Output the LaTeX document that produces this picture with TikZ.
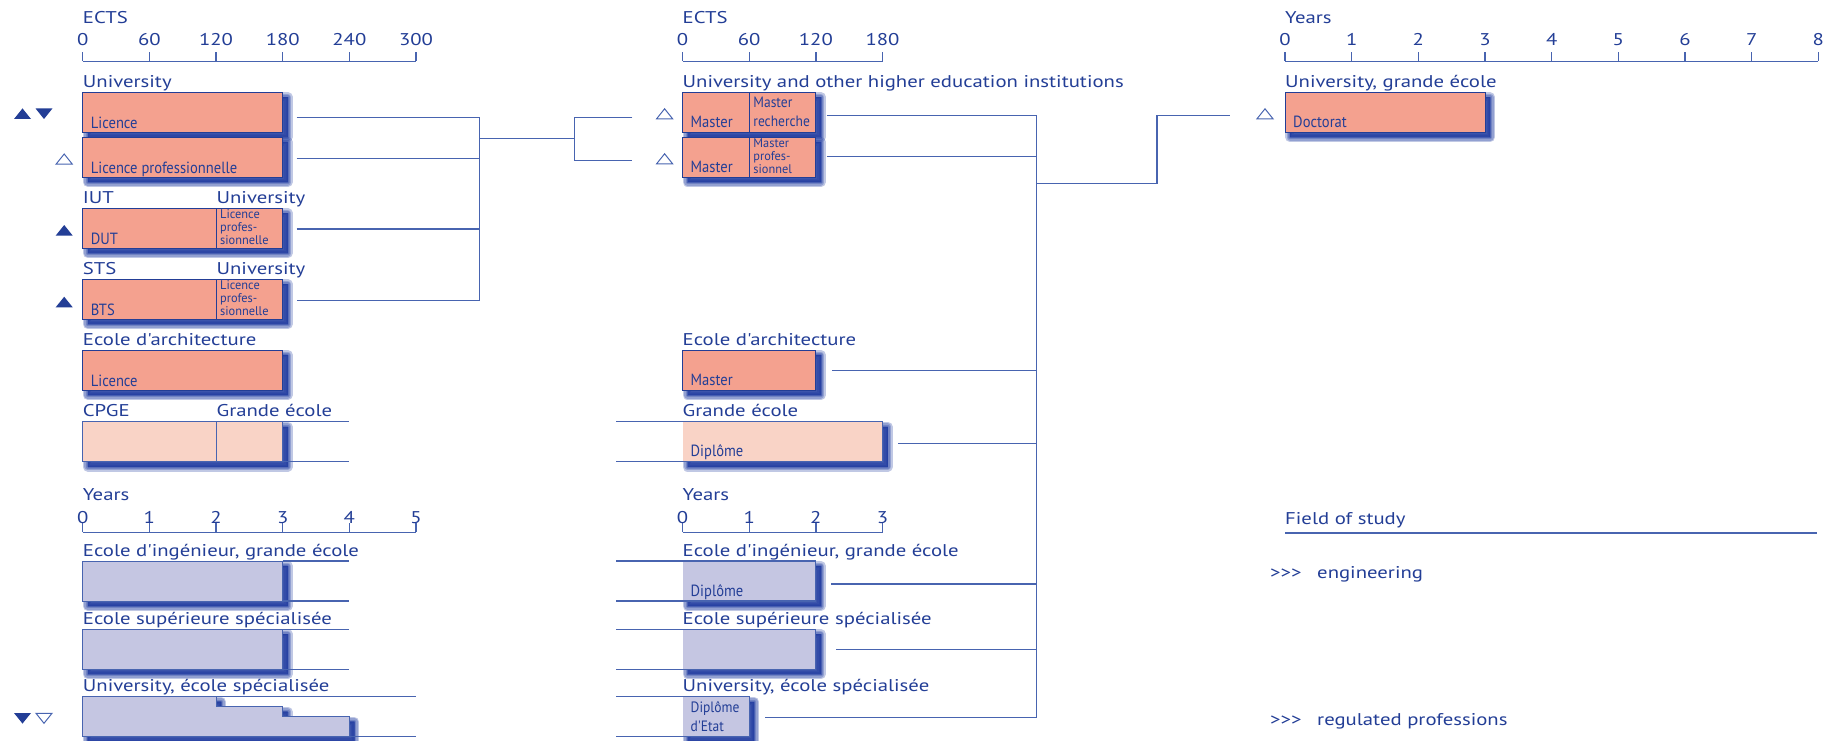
\documentclass[tikz,border=0pt]{standalone}
\usepackage{fontspec}
\setmainfont{PT Sans}
\newfontfamily\lblfont[FakeStretch=1.22]{PT Sans}
\newfontfamily\condfont[FakeStretch=0.9]{PT Sans}
\newfontfamily\tightfont[FakeStretch=0.98]{PT Sans}
\usetikzlibrary{calc,backgrounds}

\definecolor{inkblue}{RGB}{35,62,150}
\definecolor{lineblue}{RGB}{72,100,176}
\definecolor{shadeblue}{RGB}{30,58,160}
\definecolor{salmon}{RGB}{244,161,143}
\definecolor{palesalmon}{RGB}{249,211,198}
\definecolor{lavender}{RGB}{197,198,226}

\tikzset{
  lbl/.style={anchor=base west,inner sep=0pt,text=inkblue,font=\lblfont\fontsize{17}{20}\selectfont},
  num/.style={lbl,anchor=base},
  intxt/.style={inner sep=0pt,text=inkblue,align=left,font=\condfont\fontsize{16.2}{18}\selectfont},
  intxtwide/.style={intxt,font=\condfont\fontsize{15}{19}\selectfont},
  intxtthree/.style={intxt,font=\tightfont\fontsize{12.6}{13}\selectfont},
  bar/.style={draw=inkblue,line width=0.9pt,inner sep=0pt,outer sep=0pt,anchor=north west,minimum height=40pt},
  softbar/.style={bar,draw=lineblue},
  conn/.style={draw=lineblue,line width=1.3pt},
  axis/.style={draw=lineblue,line width=1.3pt},
  uptri/.pic={\fill[inkblue] (-8.5,5.3) -- (8.5,5.3) -- (0,-5.3) -- cycle;},
  dntri/.pic={\fill[inkblue] (-8.5,-5.3) -- (8.5,-5.3) -- (0,5.3) -- cycle;},
  upopen/.pic={\draw[lineblue,line width=1pt] (-8,5) -- (8,5) -- (0,-5) -- cycle;},
  dnopen/.pic={\draw[lineblue,line width=1pt] (-8,-5) -- (8,-5) -- (0,5) -- cycle;},
}

% blurred shadow under a box (or a row of boxes)
\newcommand{\shadebox}[2]{%
  \foreach \w in {10,7,4,1.5,0.2}
    \filldraw[shadeblue,opacity=0.28,line width=\w pt,line join=round]
      ([shift={(5,5)}]#1.north west) rectangle ([shift={(5,5)}]#2.south east);}
\newcommand{\chev}{>\kern0pt>\kern0pt>}

\begin{document}
\begin{tikzpicture}[x=1pt,y=-1pt]
\useasboundingbox (0,0) rectangle (1825,741);
\def\u{66.67}

% ---------- axes ----------
\node[lbl] (ectsA) at (82.7,23.3) {ECTS};
\draw[axis] (82.7,61.3) -- (416,61.3);
\foreach \v [count=\i from 0] in {0,60,...,300}{
  \draw[axis] (82.7+\i*\u,52.3) -- (82.7+\i*\u,61.3);
  \node[num] (ectsA\i) at (82.7+\i*\u,45.7) {\v};}

\node[lbl] (yrsA) at (82.7,500.7) {Years};
\draw[axis] (82.7,532.3) -- (416,532.3);
\foreach \i in {0,...,5}{
  \draw[axis] (82.7+\i*\u,523.3) -- (82.7+\i*\u,532.3);
  \node[num] (yrsA\i) at (82.7+\i*\u,523.3) {\i};}

\node[lbl] (ectsB) at (682.5,23.3) {ECTS};
\draw[axis] (682.5,61.3) -- (882.5,61.3);
\foreach \v [count=\i from 0] in {0,60,...,180}{
  \draw[axis] (682.5+\i*\u,52.3) -- (682.5+\i*\u,61.3);
  \node[num] (ectsB\i) at (682.5+\i*\u,45.7) {\v};}

\node[lbl] (yrsB) at (682.5,500.7) {Years};
\draw[axis] (682.5,532.3) -- (882.5,532.3);
\foreach \i in {0,...,3}{
  \draw[axis] (682.5+\i*\u,523.3) -- (682.5+\i*\u,532.3);
  \node[num] (yrsB\i) at (682.5+\i*\u,523.3) {\i};}

\node[lbl] (yrsC) at (1285,23.3) {Years};
\draw[axis] (1285,61.3) -- (1818.3,61.3);
\foreach \i in {0,...,8}{
  \draw[axis] (1285+\i*\u,52.3) -- (1285+\i*\u,61.3);
  \node[num] (yrsC\i) at (1285+\i*\u,45.7) {\i};}

% ---------- left column ----------
\node[lbl] (uniA) at (82.7,87.3) {University};
\node[bar,fill=salmon,minimum width=200pt] (licA) at (82.7,92.3) {};
\node[intxt,anchor=base west] (licAt) at ([shift={(8,-4)}]licA.south west) {Licence};
\node[bar,fill=salmon,minimum width=200pt] (lpA) at (82.7,137) {};
\node[intxt,anchor=base west] (lpAt) at ([shift={(8,-4)}]lpA.south west) {Licence professionnelle};

\node[lbl] (iut) at (82.7,203.3) {IUT};
\node[lbl] (uniB) at (216.4,203.3) {University};
\node[bar,fill=salmon,minimum width=133.3pt] (dut) at (82.7,208.3) {};
\node[intxt,anchor=base west] (dutt) at ([shift={(8,-4)}]dut.south west) {DUT};
\node[bar,fill=salmon,minimum width=66.7pt] (lpB) at (216,208.3) {};
\node[intxtthree,anchor=north west] (lpBt) at ([shift={(4,1.5)}]lpB.north west) {Licence\\profes-\\sionnelle};

\node[lbl] (sts) at (82.7,274.3) {STS};
\node[lbl] (uniC) at (216.4,274.3) {University};
\node[bar,fill=salmon,minimum width=133.3pt] (bts) at (82.7,279.3) {};
\node[intxt,anchor=base west] (btst) at ([shift={(8,-4)}]bts.south west) {BTS};
\node[bar,fill=salmon,minimum width=66.7pt] (lpC) at (216,279.3) {};
\node[intxtthree,anchor=north west] (lpCt) at ([shift={(4,1.5)}]lpC.north west) {Licence\\profes-\\sionnelle};

\node[lbl] (archA) at (82.7,345) {Ecole d'architecture};
\node[bar,fill=salmon,minimum width=200pt] (licB) at (82.7,350) {};
\node[intxt,anchor=base west] (licBt) at ([shift={(8,-4)}]licB.south west) {Licence};

\node[lbl] (cpgel) at (82.7,416.7) {CPGE};
\node[lbl] (geAl) at (216.4,416.7) {Grande école};
\node[softbar,fill=palesalmon,minimum width=133.3pt] (cpge) at (82.7,421.7) {};
\node[softbar,fill=palesalmon,minimum width=66.7pt] (geA) at (216,421.7) {};
\coordinate (geAo1) at (349.3,421.7);
\coordinate (geAo2) at (349.3,461.7);
\draw[conn] (geA.north east) -- (geAo1);
\draw[conn] (geA.south east) -- (geAo2);

\node[lbl] (ingAl) at (82.7,556) {Ecole d'ingénieur, grande école};
\node[softbar,fill=lavender,minimum width=200pt] (ingA) at (82.7,561) {};
\coordinate (ingAo1) at (349.3,561);
\coordinate (ingAo2) at (349.3,601);
\draw[conn] (ingA.north east) -- (ingAo1);
\draw[conn] (ingA.south east) -- (ingAo2);

\node[lbl] (supAl) at (82.7,624.3) {Ecole supérieure spécialisée};
\node[softbar,fill=lavender,minimum width=200pt] (supA) at (82.7,629.3) {};
\coordinate (supAo1) at (349.3,629.3);
\coordinate (supAo2) at (349.3,669.3);
\draw[conn] (supA.north east) -- (supAo1);
\draw[conn] (supA.south east) -- (supAo2);

\node[lbl] (speAl) at (82.7,691.7) {University, école spécialisée};
\draw[draw=lineblue,line width=0.9pt,fill=lavender] (82.7,696.7) -- (216,696.7) -- (216,706.7)
  -- (282.7,706.7) -- (282.7,716.7) -- (349.3,716.7) -- (349.3,736.7) -- (82.7,736.7) -- cycle;
\coordinate (speAi1) at (82.7,696.7);
\coordinate (speAo1) at (416,696.7);
\coordinate (speAi2) at (82.7,736.7);
\coordinate (speAo2) at (416,736.7);
\draw[conn] (speAi1) -- (speAo1);
\draw[conn] (speAi2) -- (speAo2);

% markers
\pic at (22.5,113.7) {uptri};
\pic at (44,113.7) {dntri};
\pic at (64.2,159) {upopen};
\pic at (64.2,230.3) {uptri};
\pic at (64.2,302) {uptri};
\pic at (22.5,718.3) {dntri};
\pic at (44,718.3) {dnopen};

% ---------- middle column ----------
\node[lbl] (uniD) at (682.5,87.3) {University and other higher education institutions};
\node[bar,fill=salmon,minimum width=66.7pt] (maA) at (682.5,92.3) {};
\node[intxt,anchor=base west] (maAt) at ([shift={(8,-5)}]maA.south west) {Master};
\node[bar,fill=salmon,minimum width=66.7pt] (mrA) at (749.2,92.3) {};
\node[intxtwide,anchor=north west] (mrAt) at ([shift={(4,5)}]mrA.north west) {Master\\recherche};
\node[bar,fill=salmon,minimum width=66.7pt] (maB) at (682.5,137) {};
\node[intxt,anchor=base west] (maBt) at ([shift={(8,-5)}]maB.south west) {Master};
\node[bar,fill=salmon,minimum width=66.7pt] (mpB) at (749.2,137) {};
\node[intxtthree,anchor=north west] (mpBt) at ([shift={(4,1.5)}]mpB.north west) {Master\\profes-\\sionnel};

\node[lbl] (archB) at (682.5,345) {Ecole d'architecture};
\node[bar,fill=salmon,minimum width=133.3pt] (maC) at (682.5,350) {};
\node[intxt,anchor=base west] (maCt) at ([shift={(8,-5)}]maC.south west) {Master};

\node[lbl] (geBl) at (682.5,416.7) {Grande école};
\node[bar,draw=none,fill=palesalmon,minimum width=200pt] (geB) at (682.5,421.7) {};
\node[intxt,anchor=base west] (geBt) at ([shift={(8,-5)}]geB.south west) {Diplôme};
\coordinate (geBi1) at (616,421.7);
\coordinate (geBi2) at (616,461.7);
\draw[conn] (geBi1) -- (geB.north east) -- (geB.south east) -- (geBi2);

\node[lbl] (ingBl) at (682.5,556) {Ecole d'ingénieur, grande école};
\node[bar,draw=none,fill=lavender,minimum width=133.3pt] (ingB) at (682.5,561) {};
\node[intxt,anchor=base west] (ingBt) at ([shift={(8,-5)}]ingB.south west) {Diplôme};
\coordinate (ingBi1) at (616,561);
\coordinate (ingBi2) at (616,601);
\draw[conn] (ingBi1) -- (ingB.north east) -- (ingB.south east) -- (ingBi2);

\node[lbl] (supBl) at (682.5,624.3) {Ecole supérieure spécialisée};
\node[bar,draw=none,fill=lavender,minimum width=133.3pt] (supB) at (682.5,629.3) {};
\coordinate (supBi1) at (616,629.3);
\coordinate (supBi2) at (616,669.3);
\draw[conn] (supBi1) -- (supB.north east) -- (supB.south east) -- (supBi2);

\node[lbl] (speBl) at (682.5,691.7) {University, école spécialisée};
\node[bar,draw=none,fill=lavender,minimum width=66.7pt] (speB) at (682.5,696.7) {};
\node[intxtwide,anchor=north west] (speBt) at ([shift={(8,4.5)}]speB.north west) {Diplôme\\d'Etat};
\coordinate (speBi1) at (616,696.7);
\coordinate (speBi2) at (616,736.7);
\draw[conn] (speBi1) -- (speB.north east) -- (speB.south east) -- (speBi2);

\pic at (664.6,113.8) {upopen};
\pic at (664.6,158.8) {upopen};

% ---------- right column ----------
\node[lbl] (uniE) at (1285,87.3) {University, grande école};
\node[bar,fill=salmon,minimum width=200pt] (doc) at (1285,92.3) {};
\node[intxt,anchor=base west] (doct) at ([shift={(8,-5)}]doc.south west) {Doctorat};
\pic at (1265,113.8) {upopen};

\node[lbl] (field) at (1285,524.5) {Field of study};
\coordinate (fieldR) at (1817,533);
\draw[conn] (field.base west |- fieldR) -- (fieldR);
\node[lbl] (engA) at (1270,578) {\chev};
\node[lbl] (engB) at (1317,578) {engineering};
\node[lbl] (regA) at (1270,725.5) {\chev};
\node[lbl] (regB) at (1317,725.5) {regulated professions};

% ---------- connectors ----------
% left bus
\coordinate (licAo) at (296.7,117.3);
\coordinate (lpAo) at (296.7,158.7);
\coordinate (lpBo) at (296.7,229);
\coordinate (lpCo) at (296.7,300.7);
\coordinate (busA) at (479.3,117.3);
\draw[conn] (licAo) -- (busA) |- (lpCo);
\draw[conn] (lpAo) -- (lpAo -| busA);
\draw[conn] (lpBo) -- (lpBo -| busA);
\coordinate (forkA) at (479.3,138.3);
\coordinate (forkB) at (574.3,138.3);
\coordinate (maAi) at (632.3,117.3);
\coordinate (maBi) at (632.3,160.7);
\draw[conn] (forkA) -- (forkB);
\draw[conn] (maAi) -| (forkB) |- (maBi);

% middle bus
\coordinate (mrAo) at (826.7,115.5);
\coordinate (mpBo) at (826.7,156.7);
\coordinate (maCo) at (832,370.7);
\coordinate (geBo) at (898,443.3);
\coordinate (ingBo) at (831,584);
\coordinate (supBo) at (836,649.3);
\coordinate (speBo) at (765,717.3);
\coordinate (busB) at (1036.5,115.5);
\draw[conn] (mrAo) -- (busB) |- (speBo);
\foreach \c in {mpBo,maCo,geBo,ingBo,supBo}
  \draw[conn] (\c) -- (\c -| busB);
\coordinate (jnA) at (1036.5,183.3);
\coordinate (jnB) at (1157,183.3);
\coordinate (docIn) at (1230,115.5);
\draw[conn] (jnA) -- (jnB) |- (docIn);

% ---------- shadows ----------
\begin{pgfonlayer}{background}
\fill[white] (0,0) rectangle (1825,741);
\shadebox{licA}{licA}
\shadebox{lpA}{lpA}
\shadebox{dut}{lpB}
\shadebox{bts}{lpC}
\shadebox{licB}{licB}
\shadebox{cpge}{geA}
\shadebox{ingA}{ingA}
\shadebox{supA}{supA}
\shadebox{maA}{mrA}
\shadebox{maB}{mpB}
\shadebox{maC}{maC}
\shadebox{geB}{geB}
\shadebox{ingB}{ingB}
\shadebox{supB}{supB}
\shadebox{speB}{speB}
\shadebox{doc}{doc}
\begin{scope}[shift={(5,5)}]
\foreach \w in {10,7,4,1.5,0.2}
  \filldraw[shadeblue,opacity=0.28,line width=\w pt,line join=round]
    (82.7,696.7) -- (216,696.7) -- (216,706.7) -- (282.7,706.7) -- (282.7,716.7)
    -- (349.3,716.7) -- (349.3,736.7) -- (82.7,736.7) -- cycle;
\end{scope}
\end{pgfonlayer}
\end{tikzpicture}
\end{document}
